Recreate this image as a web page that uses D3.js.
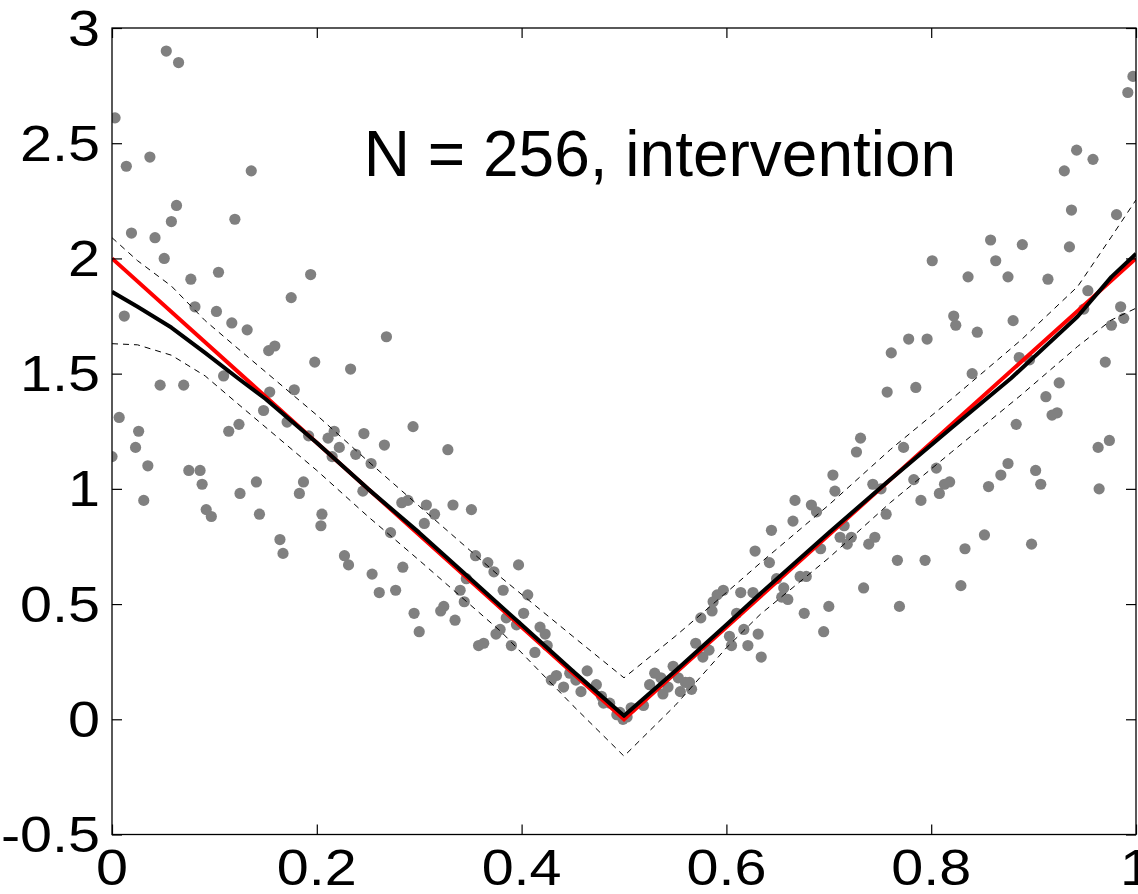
<!DOCTYPE html>
<html>
<head>
<meta charset="utf-8">
<script src="https://cdn.jsdelivr.net/npm/d3@7"></script>
<style>
  html, body { margin: 0; padding: 0; background: #fff; }
  svg { display: block; }
  text { font-family: "Liberation Sans", Arial, Helvetica, sans-serif; fill: #000; }
</style>
</head>
<body>
<div id="chart"></div>
<script>
// ---- data ----
const title = "N = 256, intervention";
const xTicks = [0, 0.2, 0.4, 0.6, 0.8, 1];
const xTickLabels = ["0", "0.2", "0.4", "0.6", "0.8", "1"];
const yTicks = [3, 2.5, 2, 1.5, 1, 0.5, 0, -0.5];
const yTickLabels = ["3", "2.5", "2", "1.5", "1", "0.5", "0", "-0.5"];

// observed samples (grey dots)
const obsX = [0.053,0.065,0.003,0.037,0.014,0.063,0.058,0.120,0.019,0.042,0.051,0.104,0.077,0.081,0.102,0.117,0.012,0.109,0.047,0.070,
  0.007,0.124,0.114,0.026,0.023,0.000,0.035,0.075,0.086,0.088,0.125,0.031,0.092,0.097,0.136,0.194,0.175,0.132,0.159,0.153,
  0.198,0.233,0.178,0.154,0.148,0.171,0.246,0.217,0.211,0.192,0.222,0.238,0.215,0.253,0.141,0.187,0.183,0.245,0.144,0.205,
  0.204,0.164,0.167,0.227,0.231,0.254,0.268,0.294,0.266,0.328,0.283,0.289,0.307,0.333,0.351,0.315,0.305,0.272,0.355,0.367,
  0.373,0.284,0.346,0.340,0.261,0.277,0.344,0.324,0.321,0.295,0.335,0.300,0.375,0.363,0.358,0.382,0.397,0.406,0.402,0.385,
  0.379,0.418,0.423,0.395,0.390,0.425,0.413,0.434,0.429,0.441,0.447,0.453,0.464,0.458,0.473,0.478,0.486,0.480,0.493,0.499,
  0.507,0.496,0.503,0.628,0.597,0.591,0.614,0.626,0.587,0.586,0.575,0.610,0.617,0.631,0.603,0.605,0.621,0.570,0.583,0.577,
  0.548,0.530,0.536,0.553,0.525,0.564,0.560,0.543,0.566,0.538,0.555,0.519,0.634,0.761,0.757,0.731,0.727,0.704,0.706,0.743,
  0.751,0.667,0.683,0.688,0.665,0.644,0.756,0.715,0.711,0.722,0.718,0.745,0.739,0.692,0.642,0.649,0.672,0.678,0.656,0.654,
  0.660,0.734,0.700,0.676,0.858,0.889,0.863,0.801,0.836,0.875,0.822,0.824,0.880,0.845,0.778,0.796,0.840,0.785,0.886,0.883,
  0.773,0.875,0.868,0.805,0.783,0.818,0.813,0.808,0.856,0.790,0.852,0.833,0.767,0.794,0.997,0.992,0.942,0.958,0.930,0.937,
  0.981,0.935,0.914,0.953,0.949,0.985,0.988,0.976,0.896,0.970,0.925,0.912,0.923,0.918,0.963,0.974,0.902,0.907,0.964,0.898,
  0.829,0.769,0.695];
const obsY = [2.90,2.85,2.61,2.44,2.40,2.23,2.16,2.17,2.11,2.09,2.00,1.94,1.91,1.79,1.77,1.72,1.75,1.49,1.45,1.45,
  1.31,1.28,1.25,1.25,1.18,1.14,1.10,1.08,1.08,1.02,0.98,0.95,0.91,0.88,2.38,1.93,1.83,1.69,1.62,1.60,
  1.55,1.52,1.43,1.42,1.34,1.29,1.24,1.25,1.22,1.23,1.18,1.15,1.14,1.11,1.03,1.03,0.98,0.99,0.89,0.89,
  0.84,0.78,0.72,0.71,0.67,0.63,1.66,1.27,1.19,1.17,0.94,0.95,0.93,0.93,0.91,0.89,0.85,0.81,0.71,0.68,
  0.64,0.66,0.61,0.56,0.55,0.56,0.51,0.49,0.47,0.46,0.43,0.38,0.37,0.33,0.32,0.56,0.67,0.54,0.46,0.44,
  0.39,0.40,0.37,0.41,0.32,0.32,0.29,0.19,0.17,0.14,0.20,0.17,0.21,0.12,0.15,0.10,0.07,0.07,0.02,0.00,
  0.05,0.03,0.01,0.73,0.56,0.54,0.55,0.55,0.51,0.47,0.44,0.46,0.39,0.37,0.36,0.32,0.32,0.33,0.30,0.27,
  0.23,0.20,0.18,0.18,0.15,0.16,0.16,0.14,0.13,0.11,0.12,0.06,0.27,1.59,1.42,1.22,1.16,1.06,0.99,1.02,
  1.00,0.95,0.93,0.90,0.86,0.82,0.89,0.84,0.79,0.79,0.76,0.79,0.76,0.74,0.68,0.61,0.62,0.62,0.57,0.53,
  0.52,0.57,0.49,0.46,2.08,2.06,1.99,1.99,1.92,1.92,1.75,1.71,1.73,1.68,1.65,1.65,1.50,1.44,1.57,1.28,
  1.18,1.11,1.06,1.09,1.04,1.03,1.02,0.98,1.01,0.95,0.80,0.74,0.69,0.69,2.79,2.72,2.47,2.43,2.38,2.21,
  2.19,2.05,1.91,1.86,1.78,1.79,1.74,1.71,1.56,1.55,1.46,1.40,1.33,1.32,1.18,1.21,1.08,1.02,1.00,0.76,
  0.58,0.49,0.38];

// true function (red)
const trueX = [0, 0.5, 1];
const trueY = [2, 0, 2];

// estimate (black) and its band (dashed)
const estX = [0,0.025,0.058,0.091,0.123,0.15,0.2,0.25,0.3,0.35,0.4,0.45,0.5,0.55,0.6,0.633,0.7,0.756,0.82,0.878,0.943,0.976,1];
const estY = [1.855,1.79,1.70,1.59,1.48,1.39,1.20,1.00,0.81,0.61,0.41,0.21,0.015,0.21,0.41,0.545,0.81,1.025,1.265,1.48,1.748,1.92,2.02];
const bandX = [0,0.025,0.058,0.091,0.12,0.2,0.25,0.3,0.38,0.45,0.5,0.55,0.6,0.633,0.7,0.76,0.82,0.888,0.943,0.976,1];
const upperY = [2.09,1.99,1.88,1.73,1.62,1.32,1.12,0.925,0.615,0.36,0.18,0.36,0.55,0.678,0.93,1.17,1.39,1.647,1.878,2.094,2.254];
const lowerY = [1.63,1.625,1.58,1.49,1.38,1.08,0.88,0.69,0.38,0.06,-0.16,0.06,0.31,0.455,0.70,0.94,1.16,1.408,1.618,1.733,1.784];

// ---- drawing ----
const W = 1138, H = 894;
const L = 112, R = 1136, T = 28, B = 834.5;

const svg = d3.select("#chart").append("svg").attr("width", W).attr("height", H);
const x = d3.scaleLinear().domain([0, 1]).range([L, R]);
const y = d3.scaleLinear().domain([-0.5, 3]).range([B, T]);

svg.append("clipPath").attr("id", "clip")
  .append("rect").attr("x", L).attr("y", T).attr("width", R - L).attr("height", B - T);

const plot = svg.append("g").attr("clip-path", "url(#clip)");

plot.append("g").selectAll("circle")
  .data(d3.range(obsX.length))
  .join("circle")
  .attr("cx", i => x(obsX[i]))
  .attr("cy", i => y(obsY[i]))
  .attr("r", 5.6)
  .attr("fill", "#808080");

const line = (xs, ys) => d3.line().x(i => x(xs[i])).y(i => y(ys[i]))(d3.range(xs.length));

plot.append("path").attr("d", line(bandX, upperY))
  .attr("fill", "none").attr("stroke", "#000").attr("stroke-width", 1).attr("stroke-dasharray", "6,5");
plot.append("path").attr("d", line(bandX, lowerY))
  .attr("fill", "none").attr("stroke", "#000").attr("stroke-width", 1).attr("stroke-dasharray", "6,5");
plot.append("path").attr("d", line(trueX, trueY))
  .attr("fill", "none").attr("stroke", "#ff0000").attr("stroke-width", 4);
plot.append("path").attr("d", line(estX, estY))
  .attr("fill", "none").attr("stroke", "#000").attr("stroke-width", 4).attr("stroke-linejoin", "round");

// box
svg.append("rect").attr("x", L).attr("y", T).attr("width", R - L).attr("height", B - T)
  .attr("fill", "none").attr("stroke", "#000").attr("stroke-width", 1.3);

// axes with inward ticks on all four sides
const tickLen = 10;
const axB = svg.append("g").attr("transform", `translate(0,${B})`)
  .call(d3.axisBottom(x).tickValues(xTicks).tickSizeInner(-tickLen).tickSizeOuter(0).tickFormat(""));
const axT = svg.append("g").attr("transform", `translate(0,${T})`)
  .call(d3.axisTop(x).tickValues(xTicks).tickSizeInner(-tickLen).tickSizeOuter(0).tickFormat(""));
const axL = svg.append("g").attr("transform", `translate(${L},0)`)
  .call(d3.axisLeft(y).tickValues(yTicks).tickSizeInner(-tickLen).tickSizeOuter(0).tickFormat(""));
const axR = svg.append("g").attr("transform", `translate(${R},0)`)
  .call(d3.axisRight(y).tickValues(yTicks).tickSizeInner(-tickLen).tickSizeOuter(0).tickFormat(""));
[axB, axT, axL, axR].forEach(a => {
  a.select(".domain").remove();
  a.selectAll(".tick line").attr("stroke", "#000").attr("stroke-width", 1.2);
});

// tick labels (slightly stretched horizontally, as in the picture)
const sx = 1.15;
const fs = 50;
svg.append("g").selectAll("text")
  .data(d3.range(yTicks.length))
  .join("text")
  .attr("transform", i => `translate(100,${y(yTicks[i])}) scale(${sx},1)`)
  .attr("text-anchor", "end")
  .attr("dominant-baseline", "central")
  .attr("font-size", fs)
  .text(i => yTickLabels[i]);

svg.append("g").selectAll("text")
  .data(d3.range(xTicks.length))
  .join("text")
  .attr("transform", i => `translate(${x(xTicks[i])},${B + 50}) scale(${sx},1)`)
  .attr("text-anchor", "middle")
  .attr("font-size", fs)
  .text(i => xTickLabels[i]);

// title inside plot
svg.append("text")
  .attr("x", 660).attr("y", 176)
  .attr("text-anchor", "middle")
  .attr("font-size", 64)
  .text(title);
</script>
</body>
</html>
